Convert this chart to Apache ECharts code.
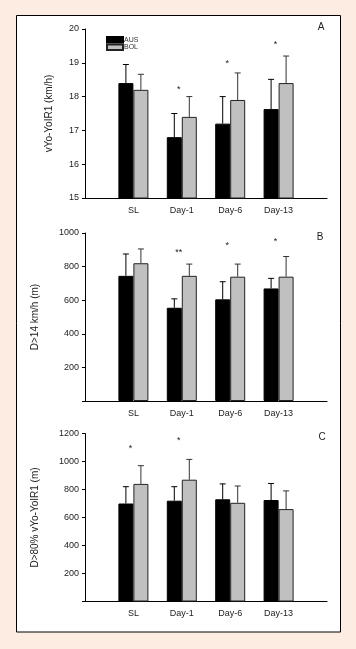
<!DOCTYPE html>
<html><head><meta charset="utf-8">
<script src="https://cdn.jsdelivr.net/npm/echarts@6/dist/echarts.min.js"></script>
<style>html,body{margin:0;padding:0;background:#fcece2;}#c{width:356px;height:649px;}</style>
</head><body><div id="c"></div>
<script>
const categories = ['SL', 'Day-1', 'Day-6', 'Day-13'];
const seriesNames = ['AUS', 'BOL'];

const aMeanAUS = [18.4, 16.8, 17.2, 17.63];
const aSdAUS   = [0.55, 0.7, 0.8, 0.88];
const aMeanBOL = [18.2, 17.4, 17.9, 18.4];
const aSdBOL   = [0.46, 0.6, 0.8, 0.8];
const aSig     = ['', '*', '*', '*'];
const aSigY    = [null, 18.27, 19.05, 19.6];

const bMeanAUS = [745, 555, 605, 670];
const bSdAUS   = [130, 53, 105, 60];
const bMeanBOL = [820, 745, 740, 740];
const bSdBOL   = [85, 70, 75, 120];
const bSig     = ['', '**', '*', '*'];
const bSigY    = [null, 893, 940, 964];

const cMeanAUS = [700, 720, 730, 725];
const cSdAUS   = [120, 100, 110, 118];
const cMeanBOL = [840, 870, 705, 660];
const cSdBOL   = [130, 145, 120, 130];
const cSig     = ['*', '*', '', ''];
const cSigY    = [1107, 1162, null, null];

const yNames = ['vYo-YoIR1 (km/h)', 'D>14 km/h (m)', 'D>80% vYo-YoIR1 (m)'];
const panelLetters = ['A', 'B', 'C'];
const yTicksA = {min: 15, max: 20, interval: 1};
const yTicksB = {min: 0, max: 1000, interval: 200};
const yTicksC = {min: 0, max: 1200, interval: 200};

const FONT = '"Liberation Sans", Arial, sans-serif';
const BAR_W = 15;
// padded category list: blank slots at both ends
const cats = [''].concat(categories).concat([' ']);
const pad = arr => [null].concat(arr).concat([null]);

const panels = [
  {mA: aMeanAUS, sA: aSdAUS, mB: aMeanBOL, sB: aSdBOL, sig: aSig, sigY: aSigY, y: yTicksA, grid: {left: 85, top: 29, width: 242, height: 169}, nameGap: 31, hideZero: false},
  {mA: bMeanAUS, sA: bSdAUS, mB: bMeanBOL, sB: bSdBOL, sig: bSig, sigY: bSigY, y: yTicksB, grid: {left: 85, top: 233, width: 242, height: 168}, nameGap: 45, hideZero: true},
  {mA: cMeanAUS, sA: cSdAUS, mB: cMeanBOL, sB: cSdBOL, sig: cSig, sigY: cSigY, y: yTicksC, grid: {left: 85, top: 433.5, width: 242, height: 168}, nameGap: 45, hideZero: true}
];

const grids = [], xAxes = [], yAxes = [], series = [];
panels.forEach((p, i) => {
  grids.push(p.grid);
  xAxes.push({
    type: 'category', gridIndex: i, data: cats, boundaryGap: false,
    axisLine: {lineStyle: {color: '#000', width: 1.2}},
    axisTick: {show: false},
    axisLabel: {interval: 0, color: '#222', fontSize: 9, fontFamily: FONT, margin: 8},
    splitLine: {show: false}
  });
  yAxes.push({
    type: 'value', gridIndex: i, min: p.y.min, max: p.y.max, interval: p.y.interval,
    name: yNames[i], nameLocation: 'middle', nameGap: p.nameGap, nameRotate: 90,
    nameTextStyle: {color: '#222', fontSize: 10, fontFamily: FONT},
    axisLine: {show: true, lineStyle: {color: '#000', width: 1}},
    axisTick: {show: true, length: 3, lineStyle: {color: '#000'}},
    axisLabel: {color: '#222', fontSize: 9, fontFamily: FONT, margin: 6,
      formatter: v => (p.hideZero && v === 0) ? '' : String(v)},
    splitLine: {show: false}
  });
  series.push({
    name: seriesNames[0], type: 'bar', xAxisIndex: i, yAxisIndex: i,
    data: pad(p.mA), barWidth: BAR_W, barGap: '0%',
    itemStyle: {color: '#000', borderColor: '#000', borderWidth: 1}
  });
  series.push({
    name: seriesNames[1], type: 'bar', xAxisIndex: i, yAxisIndex: i,
    data: pad(p.mB), barWidth: BAR_W, barGap: '0%',
    itemStyle: {color: '#c0c0c0', borderColor: '#222', borderWidth: 1}
  });
  [[p.mA, p.sA, -1, '#000'], [p.mB, p.sB, 1, '#333']].forEach(([m, s, side, col]) => {
    series.push({
      type: 'custom', xAxisIndex: i, yAxisIndex: i, z: 5, silent: true,
      data: m.map((v, k) => [k + 1, v, v + s[k]]),
      renderItem: (params, api) => {
        const p0 = api.coord([api.value(0), api.value(1)]);
        const p1 = api.coord([api.value(0), api.value(2)]);
        const cx = p0[0] + side * BAR_W / 2;
        return {type: 'group', children: [
          {type: 'line', shape: {x1: cx, y1: p0[1], x2: cx, y2: p1[1]}, style: {stroke: col, lineWidth: 1}},
          {type: 'line', shape: {x1: cx - 3, y1: p1[1], x2: cx + 3, y2: p1[1]}, style: {stroke: col, lineWidth: 1}}
        ]};
      }
    });
  });
  series.push({
    type: 'custom', xAxisIndex: i, yAxisIndex: i, z: 6, silent: true,
    data: p.sig.map((t, k) => [k + 1, p.sigY[k] == null ? p.y.min : p.sigY[k], t]).filter(d => d[2] !== ''),
    renderItem: (params, api) => {
      const pt = api.coord([api.value(0), api.value(1)]);
      const d = params.dataIndex;
      return {type: 'text', x: pt[0] - 3, y: pt[1] - 2.5,
        style: {text: p.sig.filter(t => t !== '')[d], fill: '#222', fontSize: 9, fontFamily: FONT, align: 'center', verticalAlign: 'top'}};
    }
  });
});

const chart = echarts.init(document.getElementById('c'), null, {renderer: 'canvas'});
chart.setOption({
  backgroundColor: '#fcece2',
  animation: false,
  grid: grids, xAxis: xAxes, yAxis: yAxes, series: series,
  legend: {
    data: seriesNames, orient: 'vertical', left: 106, top: 36, icon: 'rect',
    itemWidth: 16, itemHeight: 5.5, itemGap: 0, padding: 0,
    textStyle: {color: '#333', fontSize: 7, fontFamily: FONT, lineHeight: 6, padding: [0, 0, 0, -4]},
    selectedMode: false
  },
  graphic: [
    {type: 'rect', z: -10, shape: {x: 16.5, y: 15.5, width: 324, height: 616.5}, style: {fill: '#fff', stroke: '#000', lineWidth: 1}},
    {type: 'text', x: 321, y: 27, style: {text: panelLetters[0], fill: '#222', fontSize: 10, fontFamily: FONT, align: 'center', verticalAlign: 'middle'}},
    {type: 'text', x: 320, y: 237, style: {text: panelLetters[1], fill: '#222', fontSize: 10, fontFamily: FONT, align: 'center', verticalAlign: 'middle'}},
    {type: 'text', x: 322, y: 437, style: {text: panelLetters[2], fill: '#222', fontSize: 10, fontFamily: FONT, align: 'center', verticalAlign: 'middle'}}
  ]
});
</script></body></html>
